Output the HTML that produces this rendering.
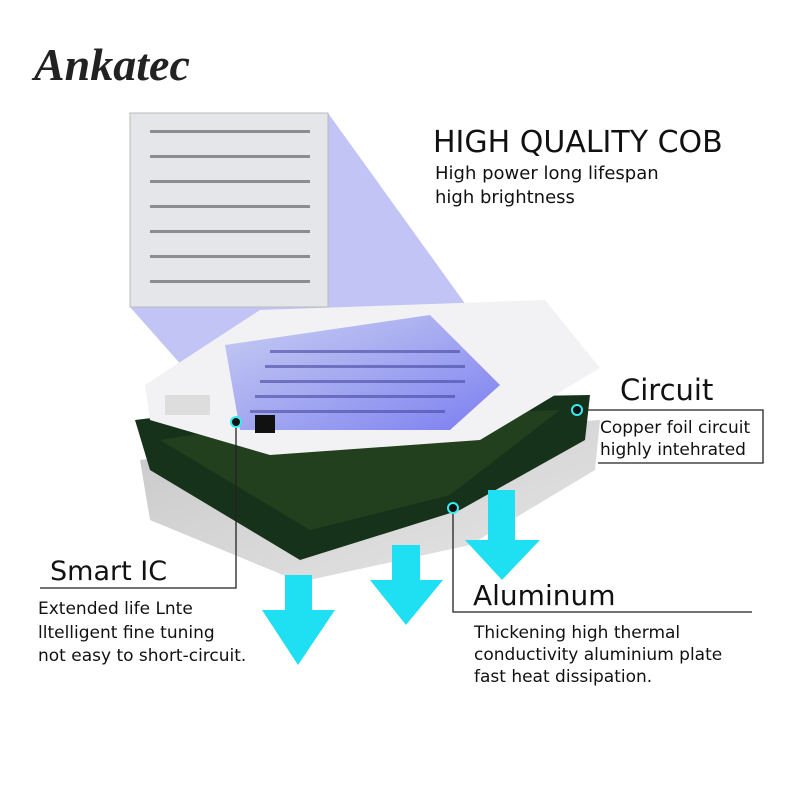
<!DOCTYPE html>
<html><head><meta charset="utf-8"><style>
body{margin:0;width:800px;height:800px;background:#fff;overflow:hidden;position:relative;font-family:"DejaVu Sans","Liberation Sans",sans-serif;color:#111}
.t{position:absolute;white-space:nowrap}
</style></head><body>
<svg width="800" height="800" style="position:absolute;left:0;top:0">
<defs>
<linearGradient id="bl" x1="0" y1="0" x2="1" y2="1"><stop offset="0" stop-color="#9aa4f0" stop-opacity=".5"/><stop offset="1" stop-color="#7a7cf0"/></linearGradient>
<linearGradient id="al" x1="0" y1="0" x2="1" y2="1"><stop offset="0" stop-color="#c8c8c8"/><stop offset="1" stop-color="#e6e6e6"/></linearGradient>
</defs>
<polygon points="130,113 328,113 520,380 230,420 130,307" fill="#8f93ee" opacity=".55"/>
<polygon points="140,460 300,440 600,420 595,470 470,545 300,582 150,520" fill="url(#al)"/>
<polygon points="135,420 300,400 590,395 585,440 460,510 300,560 150,470" fill="#17321a"/>
<polygon points="160,440 290,420 560,410 450,495 310,530" fill="#2a4a20" opacity=".6"/>
<polygon points="145,385 260,310 545,300 600,368 480,440 270,455 150,420" fill="#f2f2f4"/>
<polygon points="225,345 430,315 500,385 450,430 240,430" fill="url(#bl)"/>
<g fill="#4848a0" opacity=".6">
<rect x="270" y="350" width="190" height="3"/><rect x="265" y="365" width="200" height="3"/><rect x="260" y="380" width="205" height="3"/><rect x="255" y="395" width="200" height="3"/><rect x="250" y="410" width="195" height="3"/>
</g>
<rect x="255" y="415" width="20" height="18" fill="#111"/>
<rect x="165" y="395" width="45" height="20" fill="#ddd"/>
<rect x="130" y="113" width="198" height="194" fill="#e4e6ea" stroke="#bbb"/>
<g fill="#333">
<rect x="150" y="130" width="160" height="3" opacity=".5"/><rect x="150" y="155" width="160" height="3" opacity=".5"/><rect x="150" y="180" width="160" height="3" opacity=".5"/><rect x="150" y="205" width="160" height="3" opacity=".5"/><rect x="150" y="230" width="160" height="3" opacity=".5"/><rect x="150" y="255" width="160" height="3" opacity=".5"/><rect x="150" y="280" width="160" height="3" opacity=".5"/>
</g>
<g fill="#1fe0f2">
<polygon points="285,575 312,575 312,610 335,610 298,665 262,610 285,610"/>
<polygon points="392,545 420,545 420,580 443,580 406,625 370,580 392,580"/>
<polygon points="488,490 515,490 515,540 540,540 502,580 465,540 488,540"/>
</g>
<g stroke="#222" stroke-width="1.3" fill="none">
<polyline points="236,422 236,588 40,588"/>
<polyline points="577,410 763,410 763,463 598,463"/>
<polyline points="453,508 453,612 752,612"/>
</g>
<g fill="#111" stroke="#3ee" stroke-width="2">
<circle cx="236" cy="422" r="5"/><circle cx="577" cy="410" r="5"/><circle cx="453" cy="508" r="5"/>
</g>
</svg>
<div class="t" style="left:34px;top:38px;font-family:'Liberation Serif',serif;font-style:italic;font-weight:bold;font-size:46px;color:#222">Ankatec</div>
<div class="t" style="left:433px;top:125px;font-size:30px">HIGH QUALITY COB</div>
<div class="t" style="left:435px;top:162px;font-size:18px;line-height:24px">High power long lifespan<br>high brightness</div>
<div class="t" style="left:620px;top:373px;font-size:29px">Circuit</div>
<div class="t" style="left:600px;top:417px;font-size:17px;line-height:22px">Copper foil circuit<br>highly intehrated</div>
<div class="t" style="left:50px;top:556px;font-size:27px">Smart IC</div>
<div class="t" style="left:38px;top:598px;font-size:17px;line-height:23.5px">Extended life Lnte<br>lltelligent fine tuning<br>not easy to short-circuit.</div>
<div class="t" style="left:473px;top:579px;font-size:28px">Aluminum</div>
<div class="t" style="left:474px;top:622px;font-size:17px;line-height:22px">Thickening high thermal<br>conductivity aluminium plate<br>fast heat dissipation.</div>
</body></html>
